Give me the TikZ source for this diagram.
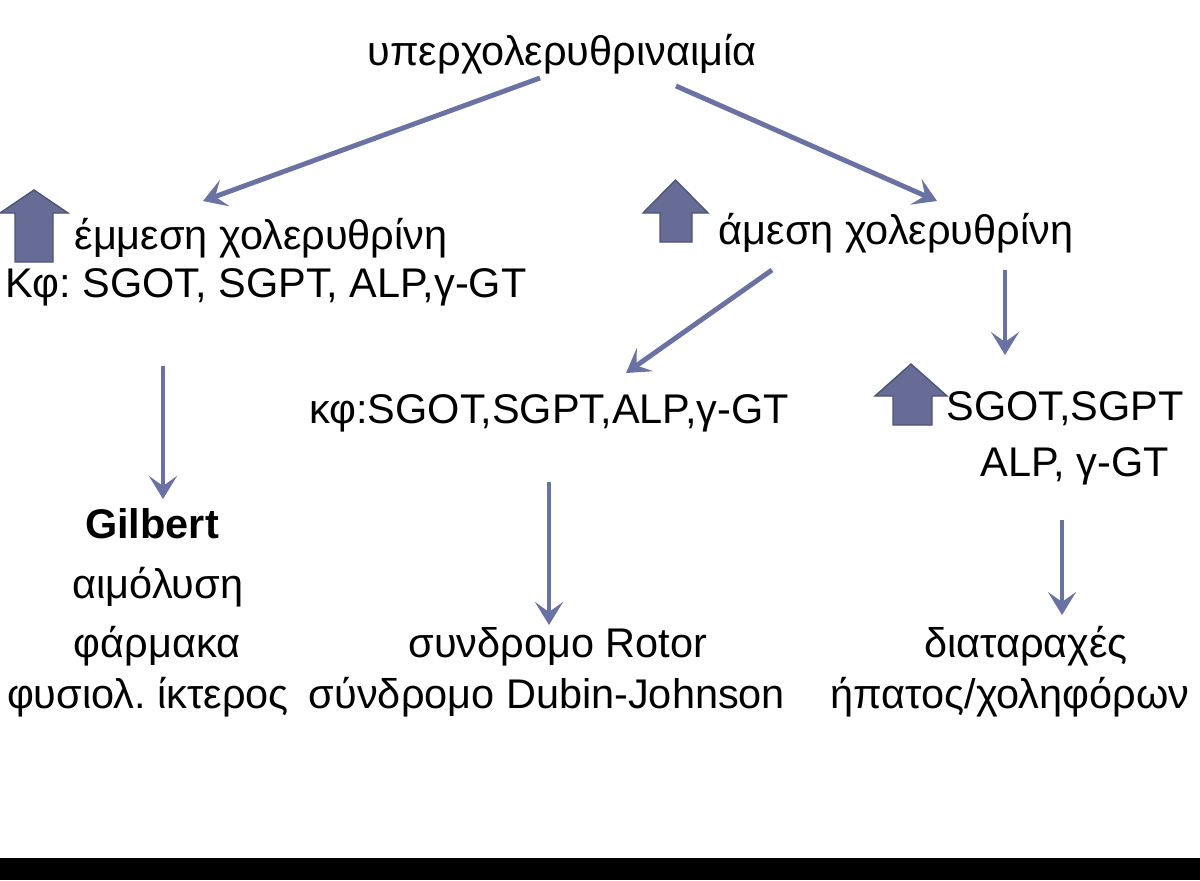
\documentclass[tikz,border=0pt]{standalone}
\usepackage{fontspec}
\setmainfont{Liberation Sans}
\usetikzlibrary{arrows.meta}
\definecolor{arrowcol}{RGB}{106,114,164}
\definecolor{blockfill}{RGB}{102,108,150}
\definecolor{blockline}{RGB}{78,84,116}
\tikzset{
  txt/.style={anchor=base, inner sep=0pt, font=\fontsize{23.6}{28}\selectfont\frenchspacing},
  conn/.style={draw=arrowcol, line width=2.8pt, -{Stealth[length=0.46cm, width=0.56cm, inset=0.2cm]}},
  upblock/.style={fill=blockfill, draw=blockline, line width=0.8pt, line join=miter}
}
\begin{document}
\frenchspacing
\begin{tikzpicture}[x=0.02cm, y=-0.02cm]
\useasboundingbox (0,0) rectangle (1200,880);
\fill[black] (0,858) rectangle (1200,880);

% texts
\node[txt] (title) at (562,65) {υπερχολερυθριναιμία};
\node[txt] (indir) at (261,249) {έμμεση χολερυθρίνη};
\node[txt] (kf1) at (266,297) {Κφ: SGOT, SGPT, ALP,γ-GT};
\node[txt] (dir) at (896,244) {άμεση χολερυθρίνη};
\node[txt] (kf2) at (549,423) {κφ:SGOT,SGPT,ALP,γ-GT};
\node[txt] (sg) at (1065,420) {SGOT,SGPT};
\node[txt] (alp) at (1075,476) {ALP, γ-GT};
\node[txt, font=\fontsize{23.6}{28}\selectfont\bfseries] (gil) at (152,538) {Gilbert};
\node[txt] (haem) at (158,598) {αιμόλυση};
\node[txt] (drug) at (157,657) {φάρμακα};
\node[txt] (phys) at (148,708) {φυσιολ. ίκτερος};
\node[txt] (rotor) at (558,657) {συνδρομο Rotor};
\node[txt] (dubin) at (547,708) {σύνδρομο Dubin-Johnson};
\node[txt] (dis1) at (1026,657) {διαταραχές};
\node[txt] (dis2) at (1010,708) {ήπατος/χοληφόρων};

% connector end points
\coordinate (a1s) at (540,78);   \coordinate (a1e) at (203,201);
\coordinate (a2s) at (676,86);   \coordinate (a2e) at (937,201);
\coordinate (a3s) at (772,270);  \coordinate (a3e) at (626,373);
\coordinate (a4s) at (1005,270); \coordinate (a4e) at (1005,355);
\coordinate (a5s) at (163,366);  \coordinate (a5e) at (163,499);
\coordinate (a6s) at (549,482);  \coordinate (a6e) at (549,625);
\coordinate (a7s) at (1062,520); \coordinate (a7e) at (1062,615);

\draw[conn] (a1s) -- (a1e);
\draw[conn] (a2s) -- (a2e);
\draw[conn] (a3s) -- (a3e);
\draw[conn] (a4s) -- (a4e);
\draw[conn] (a5s) -- (a5e);
\draw[conn] (a6s) -- (a6e);
\draw[conn] (a7s) -- (a7e);

% block up arrows
\draw[upblock] (15,262) -- (15,213) -- (0,213) -- (34,190) -- (68,213) -- (53,213) -- (53,262) -- cycle;
\draw[upblock] (660,242) -- (660,213) -- (643,213) -- (675.5,180) -- (708,213) -- (692,213) -- (692,242) -- cycle;
\draw[upblock] (893,425) -- (893,396) -- (875,396) -- (911,364) -- (947,396) -- (932,396) -- (932,425) -- cycle;
\end{tikzpicture}
\end{document}
